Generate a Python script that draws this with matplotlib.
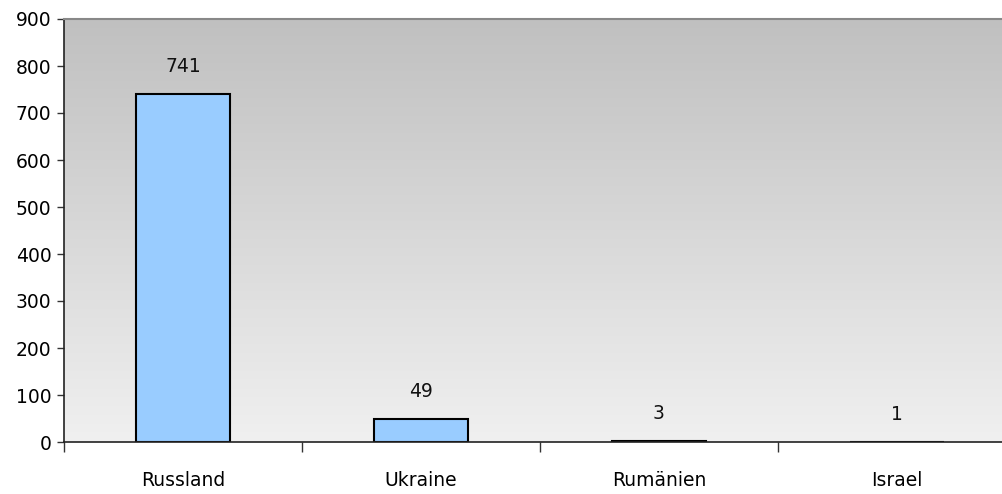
import numpy as np
import matplotlib
matplotlib.use("Agg")
import matplotlib.pyplot as plt
from matplotlib.colors import LinearSegmentedColormap

categories = ["Russland", "Ukraine", "Rumänien", "Israel"]
values = [741, 49, 3, 1]
yticks = [0, 100, 200, 300, 400, 500, 600, 700, 800, 900]

plt.rcParams['font.family'] = ['DejaVu Sans']

fig = plt.figure(figsize=(10.02, 4.94), dpi=100)
W, H = 1002, 494
left, right, top, bottom = 64, 1016, 19, 442
ax = fig.add_axes([left / W, 1 - bottom / H, (right - left) / W, (bottom - top) / H])

x = np.arange(len(categories))
ax.set_xlim(-0.5, len(categories) - 0.5)
ax.set_ylim(0, 900)

cmap = LinearSegmentedColormap.from_list("bg", ["#f0f0f0", "#c0c0c0"])
grad = np.linspace(0, 1, 256).reshape(-1, 1)
ax.imshow(grad, extent=(-0.5, len(categories) - 0.5, 0, 900), origin="lower",
          aspect="auto", cmap=cmap, zorder=0)

ax.bar(x, values, width=0.395, color="#99ccff", edgecolor="black", linewidth=1.5, zorder=2)
for xi, v in zip(x, values):
    ax.annotate(str(v), (xi, v), xytext=(0, 27), textcoords="offset pixels",
                ha="center", va="center", fontsize=13.5, color="#111111")

ax.set_yticks(yticks)
ax.set_yticklabels([str(t) for t in yticks], fontsize=13.5)
ax.set_xticks(x)
ax.set_xticklabels(categories, fontsize=13.5)
ax.tick_params(axis="x", length=0, pad=21)
ax.set_xticks(np.arange(-0.5, len(categories) + 0.5, 1), minor=True)
ax.tick_params(axis="x", which="minor", length=7, width=1, color="#333333", direction="out")
ax.tick_params(axis="y", length=5, width=1, color="#333333", direction="out", pad=4)

ax.spines["left"].set_color("#222222")
ax.spines["left"].set_linewidth(1.2)
ax.spines["bottom"].set_color("#222222")
ax.spines["bottom"].set_linewidth(1.2)
ax.spines["top"].set_color("#888888")
ax.spines["top"].set_linewidth(1.5)
ax.spines["right"].set_visible(False)

fig.savefig("out.png", dpi=100)
